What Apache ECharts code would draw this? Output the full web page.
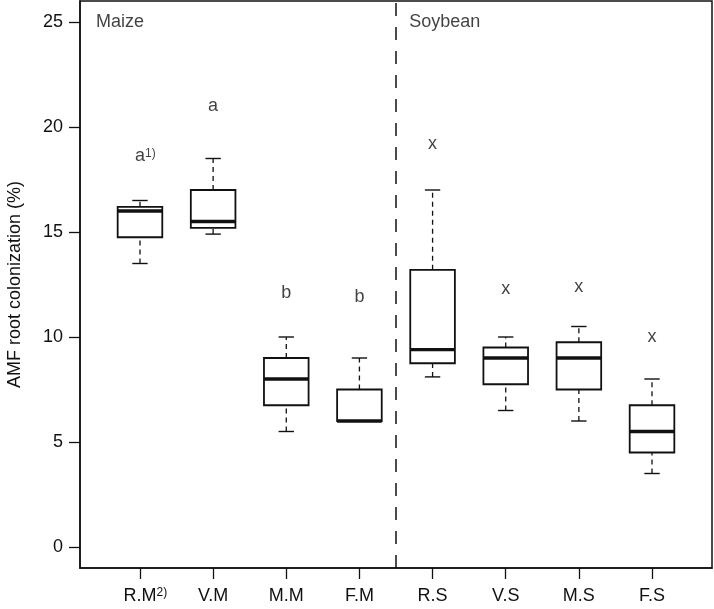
<!DOCTYPE html>
<html><head><meta charset="utf-8">
<script src="https://cdn.jsdelivr.net/npm/echarts@6/dist/echarts.min.js"></script>
<style>html,body{margin:0;padding:0;background:#fff}#c{width:714px;height:609px}</style>
</head><body><div id="c"></div>
<script>
const categories = ['R.M','V.M','M.M','F.M','R.S','V.S','M.S','F.S'];
const catSup = ['2)','','','','','','',''];
const whiskerLow  = [13.5, 14.9, 5.5, 6.0, 8.1, 6.5, 6.0, 3.5];
const q1          = [14.75, 15.2, 6.75, 6.0, 8.75, 7.75, 7.5, 4.5];
const median      = [16.0, 15.5, 8.0, 6.0, 9.4, 9.0, 9.0, 5.5];
const q3          = [16.2, 17.0, 9.0, 7.5, 13.2, 9.5, 9.75, 6.75];
const whiskerHigh = [16.5, 18.5, 10.0, 9.0, 17.0, 10.0, 10.5, 8.0];
const sigLetters = ['a','a','b','b','x','x','x','x'];
const sigSup = ['1)','','','','','','',''];
const sigY = [18.6, 21.0, 12.1, 11.9, 19.2, 12.3, 12.4, 10.0];
const groupNames = ['Maize','Soybean'];
const groupX = [0.4, 4.68];
const groupY = [25, 25];
const dividerX = 4.5;
const yTicks = [0, 5, 10, 15, 20, 25];
const xTicks = categories.map((c, i) => i + 1);

const FONT = "'Liberation Sans', Arial, sans-serif";
const INK = '#111';
const FS = 18;
const boxWidth = 0.61, stapleWidth = 0.21;

const boxData = categories.map((c, i) => [i + 1, whiskerLow[i], q1[i], median[i], q3[i], whiskerHigh[i]]);
const sigData = categories.map((c, i) => [i + 1, sigY[i], sigLetters[i], sigSup[i]]);
const groupData = groupNames.map((g, i) => [groupX[i], groupY[i], g]);

const supRich = {
  sup: {fontSize: 12, fontFamily: FONT, color: INK, verticalAlign: 'top', lineHeight: 12, padding: [0,0,8,0]},
  pad: {fontSize: 12, fontFamily: FONT, color: 'rgba(0,0,0,0)', lineHeight: 12}
};

const chart = echarts.init(document.getElementById('c'), null, {renderer: 'canvas'});
chart.setOption({
  backgroundColor: '#fff',
  animation: false,
  grid: {left: 80, right: 2, top: 1, bottom: 41, containLabel: false, outerBoundsMode: 'none',
    show: true, borderColor: INK, borderWidth: 1.5, backgroundColor: 'transparent'},
  xAxis: {
    type: 'value', min: 0.18, max: 8.82,
    splitLine: {show: false},
    axisLine: {show: true, onZero: false, lineStyle: {color: INK, width: 1.5}},
    axisTick: {show: true, customValues: xTicks, length: 11, lineStyle: {color: INK, width: 1.3}},
    axisLabel: {
      show: true, customValues: xTicks, margin: 19,
      fontSize: FS, fontFamily: FONT, color: INK,
      formatter: v => {
        const i = Math.round(v) - 1;
        if (i < 0 || i >= categories.length) return '';
        return catSup[i] ? '{pad|' + catSup[i] + '}' + categories[i] + '{sup|' + catSup[i] + '}' : categories[i];
      },
      rich: supRich
    }
  },
  yAxis: {
    type: 'value', min: -1, max: 26,
    splitLine: {show: false},
    axisLine: {show: true, onZero: false, lineStyle: {color: INK, width: 1.5}},
    axisTick: {show: true, customValues: yTicks, length: 11, lineStyle: {color: INK, width: 1.3}},
    axisLabel: {show: true, customValues: yTicks, margin: 17, fontSize: FS, fontFamily: FONT, color: INK},
    name: 'AMF root colonization (%)', nameLocation: 'middle', nameGap: 56,
    nameTextStyle: {fontSize: FS, fontFamily: FONT, color: INK}
  },
  series: [
    {
      type: 'line', data: [[dividerX, -1], [dividerX, 26]], symbol: 'none', silent: true,
      lineStyle: {color: INK, width: 1.5, type: [13, 11]}
    },
    {
      type: 'custom', data: boxData, encode: {x: 0, y: [1, 2, 3, 4, 5]}, silent: true,
      renderItem: (params, api) => {
        const x = api.value(0), lo = api.value(1), a = api.value(2), m = api.value(3), b = api.value(4), hi = api.value(5);
        const hw = boxWidth / 2, sw = stapleWidth / 2;
        const c = (xx, yy) => api.coord([xx, yy]);
        const pLo = c(x, lo), pA = c(x, a), pB = c(x, b), pHi = c(x, hi);
        const bl = c(x - hw, b), br = c(x + hw, a);
        const dash = {stroke: INK, lineWidth: 1.3, lineDash: [5, 4]};
        const solid = {stroke: INK, lineWidth: 1.4};
        const children = [];
        if (hi > b) children.push({type: 'line', shape: {x1: pB[0], y1: pB[1], x2: pHi[0], y2: pHi[1]}, style: dash});
        if (lo < a) children.push({type: 'line', shape: {x1: pLo[0], y1: pLo[1], x2: pA[0], y2: pA[1]}, style: dash});
        const s1 = c(x - sw, hi), s2 = c(x + sw, hi), s3 = c(x - sw, lo), s4 = c(x + sw, lo);
        children.push({type: 'line', shape: {x1: s1[0], y1: s1[1], x2: s2[0], y2: s2[1]}, style: solid});
        children.push({type: 'line', shape: {x1: s3[0], y1: s3[1], x2: s4[0], y2: s4[1]}, style: solid});
        children.push({type: 'rect', shape: {x: bl[0], y: bl[1], width: br[0] - bl[0], height: br[1] - bl[1]},
          style: {fill: '#fff', stroke: INK, lineWidth: 1.8}});
        const m1 = c(x - hw, m), m2 = c(x + hw, m);
        children.push({type: 'line', shape: {x1: m1[0], y1: m1[1], x2: m2[0], y2: m2[1]}, style: {stroke: INK, lineWidth: 3.4}});
        return {type: 'group', children};
      }
    },
    {
      type: 'scatter', data: sigData, symbolSize: 0, silent: true,
      label: {
        show: true, position: 'inside', fontSize: FS, fontFamily: FONT, color: INK,
        formatter: p => p.data[3] ? '{pad|' + p.data[3] + '}' + p.data[2] + '{sup|' + p.data[3] + '}' : p.data[2],
        rich: supRich
      }
    },
    {
      type: 'scatter', data: groupData, symbolSize: 0, silent: true,
      label: {
        show: true, position: [0, 0], align: 'left', verticalAlign: 'middle',
        fontSize: FS, fontFamily: FONT, color: INK,
        formatter: p => p.data[2]
      }
    }
  ]
});
</script></body></html>
